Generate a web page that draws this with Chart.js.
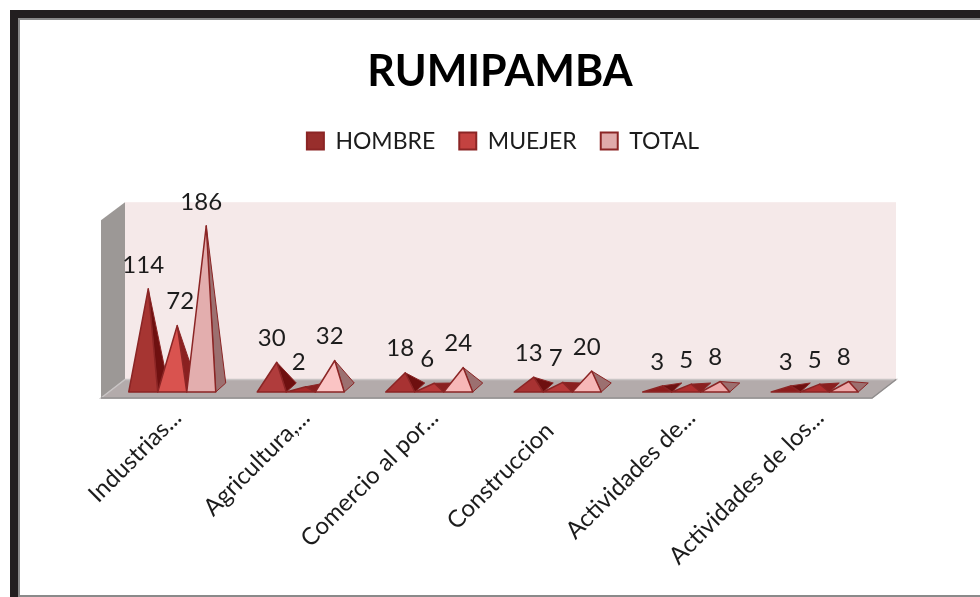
<!DOCTYPE html>
<html><head><meta charset="utf-8">
<style>html,body{margin:0;padding:0;background:#fff;overflow:hidden}canvas{display:block}</style>
<script src="https://cdn.jsdelivr.net/npm/chart.js@4"></script>
</head><body><canvas id="c" width="980" height="597"></canvas>
<script>
const chartTitle = 'RUMIPAMBA';
const categories = ['Industrias...', 'Agricultura,...', 'Comercio al por...', 'Construccion', 'Actividades de...', 'Actividades de los...'];
const hombre = [114, 30, 18, 13, 3, 3];
const muejer = [72, 2, 6, 7, 5, 5];
const total = [186, 32, 24, 20, 8, 8];
const hombreFront = ['#a63532', '#b03c3c', '#a83232', '#a83232', '#8e1c1c', '#8e1c1c'];
const muejerFront = ['#d9534f', '#a82a2a', '#b83a3a', '#b83a3a', '#b03030', '#b03030'];
const totalFront = ['#e3aeae', '#fbc4c4', '#f7b8b8', '#f7b8b8', '#eeaaaa', '#eeaaaa'];
const sideColors = ['#6e1010', '#8a2020', '#9c7070'];
const labelShift = [[0,0,0,0,0,0],[8,-2,-2,-2,0,0],[0,0,0,0,0,0]];
const tickTail = ['', '', '', '   ', '', ''];
const DEPTH_X = 10, DEPTH_Y = 9, FRONT_DROP = 3.5;
const textColor = '#1c1c1c';
const bodyFont = '"Lato"';

const frame3d = {
  id: 'frame3d',
  beforeInit(chart) {
    const fit = chart.legend.fit;
    chart.legend.fit = function () {
      fit.call(this);
      this.height += 39.6;
    };
  },
  afterLayout(chart) {
    chart.legend.left += 3;
    chart.legend.right += 3;
  },
  beforeDraw(chart) {
    const {ctx, chartArea: a, width, height} = chart;
    ctx.save();
    ctx.fillStyle = '#fff'; ctx.fillRect(0, 0, width, height);
    ctx.fillStyle = '#231f20';
    ctx.fillRect(10, 10, width - 10, 8);
    ctx.fillRect(10, 10, 8, height - 10);
    ctx.fillStyle = '#8a8a8a';
    ctx.fillRect(18, 18, width - 18, 2);
    ctx.fillRect(18, 18, 2, height - 18);
    ctx.fillRect(18, 595, width - 18, 2);
    const bl = a.left + 17, br = a.right + 17, bt = a.top, bb = a.bottom - 9;
    const fl = a.left - 7, fr = a.right - 7, fb = a.bottom + 9.5;
    ctx.fillStyle = '#f5e9e9';
    ctx.fillRect(bl, bt, br - bl, bb - bt);
    const poly = (pts, fill, stroke) => {
      ctx.beginPath();
      pts.forEach((p, i) => i ? ctx.lineTo(p[0], p[1]) : ctx.moveTo(p[0], p[1]));
      ctx.closePath();
      ctx.fillStyle = fill; ctx.fill();
      if (stroke) { ctx.strokeStyle = stroke; ctx.lineWidth = 1.5; ctx.stroke(); }
    };
    poly([[fl, bt + 18], [bl, bt], [bl, bb], [fl, fb]], '#9c9896');
    poly([[fl, fb], [bl, bb], [br, bb], [fr, fb]], '#b3abab', '#c9c5c5');
    ctx.strokeStyle = '#8f8c8c'; ctx.lineWidth = 1.5;
    ctx.beginPath(); ctx.moveTo(fl, fb); ctx.lineTo(fr, fb); ctx.lineTo(br, bb); ctx.stroke();
    ctx.restore();
  },
  beforeDatasetDraw() { return false; },
  afterDatasetsDraw(chart) {
    const ctx = chart.ctx;
    const fronts = [hombreFront, muejerFront, totalFront];
    const count = categories.length;
    ctx.save();
    ctx.lineJoin = 'round';
    for (let i = 0; i < count; i++) {
      chart.data.datasets.forEach((ds, d) => {
        const el = chart.getDatasetMeta(d).data[i];
        const half = el.width / 2;
        const l = el.x - half, r = el.x + half, y0 = el.base + FRONT_DROP;
        const ax = el.x + DEPTH_X / 2, ay = el.y;
        ctx.beginPath();
        ctx.moveTo(ax, ay); ctx.lineTo(r, y0); ctx.lineTo(r + DEPTH_X, y0 - DEPTH_Y); ctx.closePath();
        ctx.fillStyle = sideColors[d]; ctx.fill();
        ctx.strokeStyle = '#8b2525'; ctx.lineWidth = 1; ctx.stroke();
        ctx.beginPath();
        ctx.moveTo(ax, ay); ctx.lineTo(l, y0); ctx.lineTo(r, y0); ctx.closePath();
        ctx.fillStyle = fronts[d][i]; ctx.fill();
        ctx.lineWidth = 1.5; ctx.stroke();
      });
    }
    ctx.fillStyle = textColor;
    ctx.font = '24px ' + bodyFont;
    ctx.textAlign = 'center'; ctx.textBaseline = 'middle';
    chart.data.datasets.forEach((ds, d) => {
      chart.getDatasetMeta(d).data.forEach((el, i) => {
        ctx.fillText(String(ds.data[i]), el.x + labelShift[d][i], el.y - 24);
      });
    });
    ctx.restore();
  }
};

new Chart(document.getElementById('c'), {
  type: 'bar',
  data: {
    labels: categories,
    datasets: [
      {label: 'HOMBRE', data: hombre, backgroundColor: '#982e2c', borderColor: '#8b2525', borderWidth: 2},
      {label: 'MUEJER', data: muejer, backgroundColor: '#c44240', borderColor: '#8b2525', borderWidth: 2},
      {label: 'TOTAL', data: total, backgroundColor: '#e0aaaa', borderColor: '#8b2525', borderWidth: 2}
    ]
  },
  options: {
    responsive: false,
    animation: false,
    events: [],
    categoryPercentage: 0.677,
    barPercentage: 1,
    layout: {padding: {left: 20, right: 0, top: 20, bottom: 0}},
    scales: {
      x: {
        grid: {display: false}, border: {display: false},
        ticks: {
          autoSkip: false, minRotation: 45, maxRotation: 45,
          color: textColor, font: {family: bodyFont, size: 24},
          labelOffset: 5, padding: 7,
          callback(v, i) { return categories[i] + tickTail[i]; }
        },
        afterFit(s) { s.height = 208.5; }
      },
      y: {
        position: 'left', min: 0, max: 213,
        grid: {display: false}, border: {display: false},
        ticks: {display: false},
        afterFit(s) { s.width = 88; }
      },
      yRight: {
        axis: 'y', position: 'right', min: 0, max: 213,
        grid: {display: false}, border: {display: false},
        ticks: {display: false},
        afterFit(s) { s.width = 101; }
      }
    },
    plugins: {
      title: {
        display: true, text: chartTitle, color: '#000',
        font: {family: bodyFont, size: 43, weight: 'bold'},
        padding: {top: 26, bottom: 8}
      },
      legend: {
        display: true, position: 'top',
        labels: {
          boxWidth: 17, boxHeight: 17, padding: 24, color: textColor,
          font: {family: bodyFont, size: 23}
        }
      },
      tooltip: {enabled: false}
    }
  },
  plugins: [frame3d]
});
</script></body></html>
